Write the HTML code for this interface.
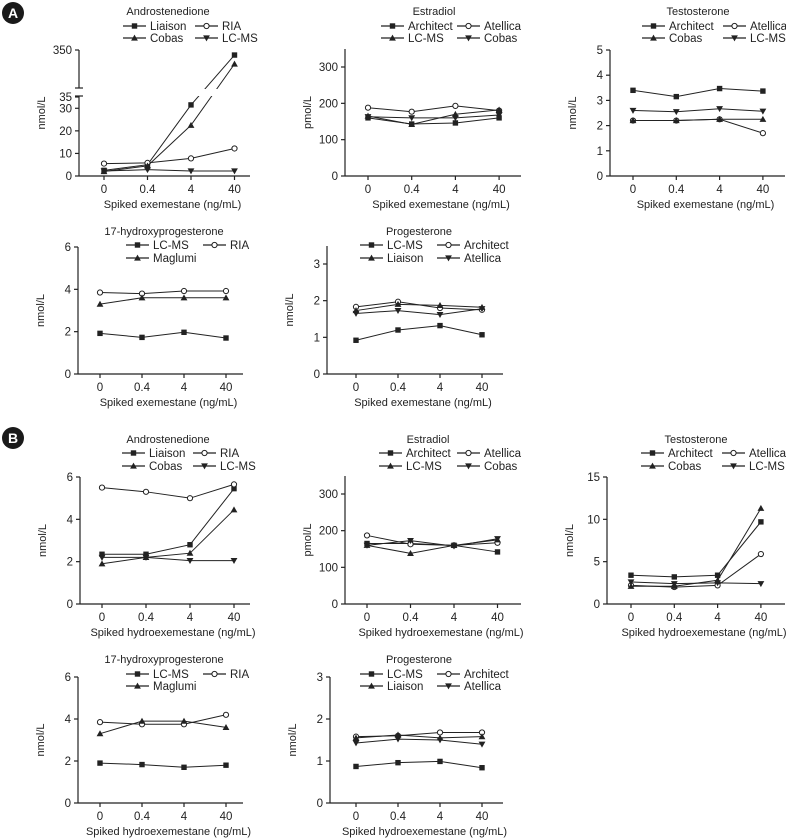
<!DOCTYPE html>
<html><head><meta charset="utf-8"><style>
html,body{margin:0;padding:0;background:#fff;}
svg{display:block;font-family:"Liberation Sans",Arial,sans-serif;}
</style></head><body>
<svg id="fig" width="786" height="838" viewBox="0 0 786 838" xmlns="http://www.w3.org/2000/svg"></svg>
<script>
const doses = ['0','0.4','4','40'];
// A: exemestane
const aAndroLiaison = [2.5,5,31.5,307];
const aAndroRIA = [5.5,5.8,7.8,12.2];
const aAndroCobas = [2,4.5,22.5,231];
const aAndroLCMS = [2.2,2.8,2.2,2.2];
const aE2Architect = [160,143,146,160];
const aE2Atellica = [188,177,193,180];
const aE2LCMS = [165,142,170,182];
const aE2Cobas = [163,160,160,168];
const aTArchitect = [3.4,3.15,3.47,3.37];
const aTAtellica = [2.2,2.2,2.25,1.7];
const aTCobas = [2.2,2.2,2.25,2.25];
const aTLCMS = [2.6,2.55,2.67,2.57];
const aOHPLCMS = [1.92,1.73,1.97,1.7];
const aOHPRIA = [3.85,3.8,3.92,3.92];
const aOHPMaglumi = [3.3,3.6,3.6,3.6];
const aPLCMS = [0.92,1.2,1.32,1.07];
const aPArchitect = [1.83,1.97,1.8,1.75];
const aPLiaison = [1.73,1.9,1.87,1.82];
const aPAtellica = [1.65,1.73,1.62,1.78];
// B: hydroexemestane
const bAndroLiaison = [2.35,2.35,2.8,5.45];
const bAndroRIA = [5.5,5.3,5.0,5.65];
const bAndroCobas = [1.9,2.2,2.4,4.45];
const bAndroLCMS = [2.2,2.2,2.05,2.05];
const bE2Architect = [165,165,160,142];
const bE2Atellica = [187,163,160,167];
const bE2LCMS = [160,138,160,175];
const bE2Cobas = [160,173,158,178];
const bTArchitect = [3.4,3.2,3.4,9.7];
const bTAtellica = [2.2,2.0,2.2,5.9];
const bTCobas = [2.1,2.1,2.8,11.3];
const bTLCMS = [2.6,2.4,2.5,2.4];
const bOHPLCMS = [1.9,1.83,1.7,1.8];
const bOHPRIA = [3.85,3.75,3.75,4.2];
const bOHPMaglumi = [3.3,3.9,3.9,3.6];
const bPLCMS = [0.87,0.96,0.99,0.84];
const bPArchitect = [1.58,1.6,1.68,1.68];
const bPLiaison = [1.55,1.62,1.55,1.58];
const bPAtellica = [1.43,1.52,1.5,1.4];
const ticksA1Low = [0,10,20,30];
const ticksA1High = [35,350];
const ticksE2 = [0,100,200,300];
const ticksT5 = [0,1,2,3,4,5];
const ticks6 = [0,2,4,6];
const ticksP3 = [0,1,2,3];
const ticksT15 = [0,5,10,15];

const NS='http://www.w3.org/2000/svg';
const svg=document.getElementById('fig');
const C='#222';
function mk(tag,attrs,parent){const e=document.createElementNS(NS,tag);for(const k in attrs)e.setAttribute(k,attrs[k]);(parent||svg).appendChild(e);return e;}
function txt(x,y,s,anchor,size,parent){const t=mk('text',{x:x,y:y,'text-anchor':anchor||'middle','font-size':size||11,fill:C},parent);t.textContent=s;return t;}
function marker(g,type,x,y){
  let m;
  if(type==='sq') m=mk('rect',{x:x-2.7,y:y-2.7,width:5.4,height:5.4,fill:C},g);
  else if(type==='ci') m=mk('circle',{cx:x,cy:y,r:2.6,fill:'#fff',stroke:C,'stroke-width':1},g);
  else if(type==='tu') m=mk('polygon',{points:`${x},${y-3.4} ${x-3.4},${y+2.6} ${x+3.4},${y+2.6}`,fill:C},g);
  else m=mk('polygon',{points:`${x},${y+3.4} ${x-3.4},${y-2.6} ${x+3.4},${y-2.6}`,fill:C},g);
  return m;
}
function panel(p){
  const g=mk('g',{});
  
  
  const xs=i=>p.x0+i*p.dx;
  const ys=p.yscale||(v=>p.bottom-v/p.vmax*(p.bottom-p.vmaxPix));
  const ax=mk('line',{x1:p.axis,y1:p.bottom,x2:p.end,y2:p.bottom,stroke:C,'stroke-width':1.2},g);
  
  if(p.segments){p.segments.forEach(s=>mk('line',{x1:p.axis,y1:s[0],x2:p.axis,y2:s[1],stroke:C,'stroke-width':1.2},g));}
  else {const ay=mk('line',{x1:p.axis,y1:p.bottom,x2:p.axis,y2:p.top,stroke:C,'stroke-width':1.2},g);
    }
  p.ticks.forEach(v=>{const y=ys(v);mk('line',{x1:p.axis-4,y1:y,x2:p.axis,y2:y,stroke:C,'stroke-width':1.2},g);
    const t=txt(p.axis-7,y+4,String(v),'end',11.5,g);});
  doses.forEach((d,i)=>{mk('line',{x1:xs(i),y1:p.bottom,x2:xs(i),y2:p.bottom+4,stroke:C,'stroke-width':1.2},g);
    const t=txt(xs(i),p.bottom+17,d,'middle',11.5,g);});
  const xt=txt((p.axis+p.end)/2+8,p.bottom+32,p.xtitle,'middle',11,g);
  
  const ycy=(p.bottom+(p.top))/2;
  const yt=txt(0,0,p.ytitle,'middle',11,g);yt.setAttribute('transform',`translate(${p.axis-34},${ycy}) rotate(-90)`);
  
  const tt=txt(p.tx,p.ty+4,p.title,'middle',11,g);
  
  p.series.forEach((s,k)=>{
    const sg=mk('g',{},g);
    
    
    const pts=s.data.map((v,i)=>xs(i)+','+ys(v)).join(' ');
    mk('polyline',{points:pts,fill:'none',stroke:C,'stroke-width':1},sg);
    if(p.gap){mk('rect',{x:p.axis+1,y:p.gap[0],width:p.end-p.axis,height:p.gap[1]-p.gap[0],fill:'#fff'},sg);}
    s.data.forEach((v,i)=>{const m=marker(sg,s.m,xs(i),ys(v));});
    const col=k%2,row=Math.floor(k/2);
    const lx=p.leg[col],ly=p.ly[row];
    const lg=mk('g',{},g);
    
    
    mk('line',{x1:lx,y1:ly,x2:lx+23,y2:ly,stroke:C,'stroke-width':1.2},lg);
    marker(lg,s.m,lx+11.5,ly);
    txt(lx+27,ly+4,s.label,'start',11.5,lg);
  });
}
[['A',13,13],['B',13,438]].forEach(a=>{const g=mk('g',{});
  mk('circle',{cx:a[1],cy:a[2],r:11,fill:'#1a1a1a'},g);const t=txt(a[1],a[2]+5,a[0],'middle',14,g);t.setAttribute('fill','#fff');t.setAttribute('font-weight','bold');});

const sq='sq',ci='ci',tu='tu',td='td';
const exTitle='Spiked exemestane (ng/mL)', hyTitle='Spiked hydroexemestane (ng/mL)';
panel({name:'a-androstenedione',axis:79,x0:104,dx:43.5,end:250,bottom:176,top:50,
  yscale:v=>v<=35?176-v*(79/35):87-(v-35)/315*37,
  segments:[[176,96],[88,50]],gap:[89,96],
  ticks:ticksA1Low.concat(ticksA1High),ytitle:'nmol/L',xtitle:exTitle,title:'Androstenedione',tx:168,ty:11,
  leg:[123,195],ly:[26,38],
  series:[{label:'Liaison',data:aAndroLiaison,m:sq},{label:'RIA',data:aAndroRIA,m:ci},{label:'Cobas',data:aAndroCobas,m:tu},{label:'LC-MS',data:aAndroLCMS,m:td}]});
mk('line',{x1:75,y1:88,x2:83,y2:88,stroke:C,'stroke-width':1.2});
mk('line',{x1:75,y1:96,x2:83,y2:96,stroke:C,'stroke-width':1.2});
panel({name:'a-estradiol',axis:345,x0:368,dx:43.7,end:521,bottom:176,top:49,vmax:300,vmaxPix:67,ticks:ticksE2,
  ytitle:'pmol/L',xtitle:exTitle,title:'Estradiol',tx:434,ty:11,leg:[381,457],ly:[26,38],
  series:[{label:'Architect',data:aE2Architect,m:sq},{label:'Atellica',data:aE2Atellica,m:ci},{label:'LC-MS',data:aE2LCMS,m:tu},{label:'Cobas',data:aE2Cobas,m:td}]});
panel({name:'a-testosterone',axis:610,x0:633,dx:43.3,end:785,bottom:176,top:50,vmax:5,vmaxPix:50,ticks:ticksT5,
  ytitle:'nmol/L',xtitle:exTitle,title:'Testosterone',tx:698,ty:11,leg:[642,723],ly:[26,38],
  series:[{label:'Architect',data:aTArchitect,m:sq},{label:'Atellica',data:aTAtellica,m:ci},{label:'Cobas',data:aTCobas,m:tu},{label:'LC-MS',data:aTLCMS,m:td}]});
panel({name:'a-17-hydroxyprogesterone',axis:78,x0:100,dx:42,end:243,bottom:374,top:247,vmax:6,vmaxPix:247,ticks:ticks6,
  ytitle:'nmol/L',xtitle:exTitle,title:'17-hydroxyprogesterone',tx:164,ty:231,leg:[126,203],ly:[245,258],
  series:[{label:'LC-MS',data:aOHPLCMS,m:sq},{label:'RIA',data:aOHPRIA,m:ci},{label:'Maglumi',data:aOHPMaglumi,m:tu}]});
panel({name:'a-progesterone',axis:327,x0:356,dx:42,end:503,bottom:374,top:246,vmax:3,vmaxPix:264,ticks:ticksP3,
  ytitle:'nmol/L',xtitle:exTitle,title:'Progesterone',tx:419,ty:231,leg:[360,437],ly:[245,258],
  series:[{label:'LC-MS',data:aPLCMS,m:sq},{label:'Architect',data:aPArchitect,m:ci},{label:'Liaison',data:aPLiaison,m:tu},{label:'Atellica',data:aPAtellica,m:td}]});
panel({name:'b-androstenedione',axis:80,x0:102,dx:44,end:250,bottom:604,top:477,vmax:6,vmaxPix:477,ticks:ticks6,
  ytitle:'nmol/L',xtitle:hyTitle,title:'Androstenedione',tx:168,ty:439,leg:[122,193],ly:[453,466],
  series:[{label:'Liaison',data:bAndroLiaison,m:sq},{label:'RIA',data:bAndroRIA,m:ci},{label:'Cobas',data:bAndroCobas,m:tu},{label:'LC-MS',data:bAndroLCMS,m:td}]});
panel({name:'b-estradiol',axis:345,x0:367,dx:43.5,end:521,bottom:604,top:476,vmax:300,vmaxPix:494,ticks:ticksE2,
  ytitle:'pmol/L',xtitle:hyTitle,title:'Estradiol',tx:428,ty:439,leg:[379,457],ly:[453,466],
  series:[{label:'Architect',data:bE2Architect,m:sq},{label:'Atellica',data:bE2Atellica,m:ci},{label:'LC-MS',data:bE2LCMS,m:tu},{label:'Cobas',data:bE2Cobas,m:td}]});
panel({name:'b-testosterone',axis:607,x0:631,dx:43.3,end:785,bottom:604,top:477,vmax:15,vmaxPix:477,ticks:ticksT15,
  ytitle:'nmol/L',xtitle:hyTitle,title:'Testosterone',tx:696,ty:439,leg:[641,722],ly:[453,466],
  series:[{label:'Architect',data:bTArchitect,m:sq},{label:'Atellica',data:bTAtellica,m:ci},{label:'Cobas',data:bTCobas,m:tu},{label:'LC-MS',data:bTLCMS,m:td}]});
panel({name:'b-17-hydroxyprogesterone',axis:78,x0:100,dx:42,end:243,bottom:803,top:677,vmax:6,vmaxPix:677,ticks:ticks6,
  ytitle:'nmol/L',xtitle:hyTitle,title:'17-hydroxyprogesterone',tx:164,ty:659,leg:[126,203],ly:[674,686],
  series:[{label:'LC-MS',data:bOHPLCMS,m:sq},{label:'RIA',data:bOHPRIA,m:ci},{label:'Maglumi',data:bOHPMaglumi,m:tu}]});
panel({name:'b-progesterone',axis:330,x0:356,dx:42,end:503,bottom:803,top:677,vmax:3,vmaxPix:677,ticks:ticksP3,
  ytitle:'nmol/L',xtitle:hyTitle,title:'Progesterone',tx:419,ty:659,leg:[360,437],ly:[674,686],
  series:[{label:'LC-MS',data:bPLCMS,m:sq},{label:'Architect',data:bPArchitect,m:ci},{label:'Liaison',data:bPLiaison,m:tu},{label:'Atellica',data:bPAtellica,m:td}]});
</script>
</body></html>
